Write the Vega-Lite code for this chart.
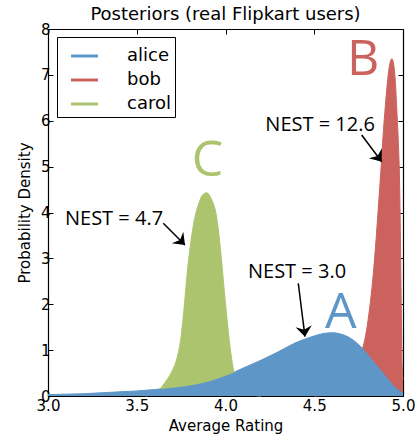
{
  "$schema": "https://vega.github.io/schema/vega-lite/v6.json",
  "width": 355,
  "height": 367,
  "autosize": {"type": "none"},
  "padding": {"left": 48, "top": 29, "right": 14, "bottom": 38},
  "background": "white",
  "title": {"text": "Posteriors (real Flipkart users)", "font": "DejaVu Sans", "fontSize": 18, "fontWeight": "normal", "color": "black", "offset": -16, "baseline": "alphabetic", "anchor": "middle"},
  "config": {
    "view": {"stroke": null},
    "axis": {"grid": false, "domainColor": "black", "domainWidth": 1.2, "tickColor": "black", "tickWidth": 1, "labelColor": "black", "titleColor": "black", "labelFont": "DejaVu Sans", "labelFontSize": 15, "titleFont": "DejaVu Sans", "titleFontSize": 15, "titleFontWeight": "normal", "labelFlush": false, "labelOverlap": false, "zindex": 1}
  },
  "datasets": {
    "curves": [
      {"name": "bob", "x": 4.5, "y": 0},
      {"name": "bob", "x": 4.6, "y": 0.05},
      {"name": "bob", "x": 4.65, "y": 0.15},
      {"name": "bob", "x": 4.7, "y": 0.35},
      {"name": "bob", "x": 4.74, "y": 0.65},
      {"name": "bob", "x": 4.77, "y": 1.0},
      {"name": "bob", "x": 4.79, "y": 1.33},
      {"name": "bob", "x": 4.81, "y": 1.85},
      {"name": "bob", "x": 4.83, "y": 2.55},
      {"name": "bob", "x": 4.85, "y": 3.5},
      {"name": "bob", "x": 4.86, "y": 4.05},
      {"name": "bob", "x": 4.87, "y": 4.6},
      {"name": "bob", "x": 4.88, "y": 5.2},
      {"name": "bob", "x": 4.89, "y": 5.8},
      {"name": "bob", "x": 4.9, "y": 6.3},
      {"name": "bob", "x": 4.91, "y": 6.75},
      {"name": "bob", "x": 4.92, "y": 7.1},
      {"name": "bob", "x": 4.93, "y": 7.3},
      {"name": "bob", "x": 4.937, "y": 7.35},
      {"name": "bob", "x": 4.945, "y": 7.28},
      {"name": "bob", "x": 4.955, "y": 6.95},
      {"name": "bob", "x": 4.965, "y": 6.25},
      {"name": "bob", "x": 4.975, "y": 5.4},
      {"name": "bob", "x": 4.98, "y": 4.8},
      {"name": "bob", "x": 4.985, "y": 3.6},
      {"name": "bob", "x": 4.99, "y": 2.0},
      {"name": "bob", "x": 4.995, "y": 0.7},
      {"name": "bob", "x": 5.0, "y": 0.35},
      {"name": "carol", "x": 3.55, "y": 0.0},
      {"name": "carol", "x": 3.6, "y": 0.06},
      {"name": "carol", "x": 3.63, "y": 0.15},
      {"name": "carol", "x": 3.66, "y": 0.3},
      {"name": "carol", "x": 3.7, "y": 0.55},
      {"name": "carol", "x": 3.725, "y": 0.8},
      {"name": "carol", "x": 3.75, "y": 1.3},
      {"name": "carol", "x": 3.762, "y": 1.73},
      {"name": "carol", "x": 3.79, "y": 2.9},
      {"name": "carol", "x": 3.81, "y": 3.5},
      {"name": "carol", "x": 3.828, "y": 3.9},
      {"name": "carol", "x": 3.85, "y": 4.2},
      {"name": "carol", "x": 3.87, "y": 4.38},
      {"name": "carol", "x": 3.894, "y": 4.43},
      {"name": "carol", "x": 3.92, "y": 4.3},
      {"name": "carol", "x": 3.95, "y": 3.9},
      {"name": "carol", "x": 3.965, "y": 3.45},
      {"name": "carol", "x": 3.979, "y": 2.9},
      {"name": "carol", "x": 3.993, "y": 2.3},
      {"name": "carol", "x": 4.007, "y": 1.73},
      {"name": "carol", "x": 4.02, "y": 1.25},
      {"name": "carol", "x": 4.035, "y": 0.8},
      {"name": "carol", "x": 4.05, "y": 0.48},
      {"name": "carol", "x": 4.07, "y": 0.25},
      {"name": "carol", "x": 4.1, "y": 0.1},
      {"name": "carol", "x": 4.15, "y": 0.02},
      {"name": "carol", "x": 4.2, "y": 0.0},
      {"name": "alice", "x": 3.0, "y": 0.03},
      {"name": "alice", "x": 3.1, "y": 0.04},
      {"name": "alice", "x": 3.2, "y": 0.05},
      {"name": "alice", "x": 3.3, "y": 0.07},
      {"name": "alice", "x": 3.4, "y": 0.09},
      {"name": "alice", "x": 3.5, "y": 0.11},
      {"name": "alice", "x": 3.6, "y": 0.14},
      {"name": "alice", "x": 3.7, "y": 0.18},
      {"name": "alice", "x": 3.8, "y": 0.23},
      {"name": "alice", "x": 3.9, "y": 0.31},
      {"name": "alice", "x": 4.0, "y": 0.44},
      {"name": "alice", "x": 4.05, "y": 0.52},
      {"name": "alice", "x": 4.1, "y": 0.61},
      {"name": "alice", "x": 4.2, "y": 0.78},
      {"name": "alice", "x": 4.3, "y": 0.97},
      {"name": "alice", "x": 4.4, "y": 1.17},
      {"name": "alice", "x": 4.5, "y": 1.31},
      {"name": "alice", "x": 4.55, "y": 1.36},
      {"name": "alice", "x": 4.6, "y": 1.38},
      {"name": "alice", "x": 4.65, "y": 1.35},
      {"name": "alice", "x": 4.7, "y": 1.27},
      {"name": "alice", "x": 4.75, "y": 1.12},
      {"name": "alice", "x": 4.8, "y": 0.92},
      {"name": "alice", "x": 4.85, "y": 0.68},
      {"name": "alice", "x": 4.9, "y": 0.45},
      {"name": "alice", "x": 4.95, "y": 0.22},
      {"name": "alice", "x": 5.0, "y": 0.07}
    ],
    "arrows": [
      {"id": "C", "x": 3.6496, "y": 3.765, "x2": 3.7718, "y2": 3.2916},
      {"id": "A", "x": 4.41, "y": 2.457, "x2": 4.4479, "y2": 1.2926},
      {"id": "B", "x": 4.7673, "y": 5.689, "x2": 4.88, "y2": 5.107}
    ],
    "nest": [
      {"t": "NEST = 4.7", "x": 3.372, "y": 3.727},
      {"t": "NEST = 3.0", "x": 4.403, "y": 2.566},
      {"t": "NEST = 12.6", "x": 4.533, "y": 5.777}
    ],
    "letters": [
      {"t": "A", "x": 4.65, "y": 1.476, "name": "alice"},
      {"t": "B", "x": 4.776, "y": 6.997, "name": "bob"},
      {"t": "C", "x": 3.899, "y": 4.79, "name": "carol"}
    ]
  },
  "layer": [
    {
      "data": {"name": "curves"},
      "mark": {"type": "line", "strokeWidth": 1, "interpolate": "monotone"},
      "encoding": {
        "x": {"field": "x", "type": "quantitative", "scale": {"domain": [3, 5], "nice": false, "zero": false},
              "axis": {"orient": "top", "values": [3, 3.5, 4, 4.5, 5], "labels": false, "title": null, "tickSize": -5, "minExtent": 0, "maxExtent": 0}},
        "y": {"field": "y", "type": "quantitative", "scale": {"domain": [0, 8], "nice": false},
              "axis": {"orient": "right", "values": [0, 1, 2, 3, 4, 5, 6, 7, 8], "labels": false, "title": null, "tickSize": -5, "minExtent": 0, "maxExtent": 0}},
        "color": {"field": "name", "type": "nominal",
                  "scale": {"domain": ["alice", "bob", "carol"], "range": ["#5f96c8", "#cb625e", "#adc46e"]},
                  "legend": {"title": null, "orient": "none", "legendX": 9, "legendY": 8, "symbolType": "stroke", "symbolSize": 729, "symbolStrokeWidth": 3, "symbolOffset": 8.5, "labelOffset": 27.5, "rowPadding": -0.5, "padding": 4, "labelFont": "DejaVu Sans", "labelFontSize": 18, "labelColor": "black", "strokeColor": "black", "fillColor": "white", "cornerRadius": 0}}
      }
    },
    {
      "data": {"name": "curves"},
      "transform": [{"filter": "datum.name === 'bob'"}],
      "mark": {"type": "area", "interpolate": "monotone"},
      "encoding": {
        "x": {"field": "x", "type": "quantitative",
              "axis": {"orient": "bottom", "values": [3, 3.5, 4, 4.5, 5], "format": ".1f", "title": "Average Rating", "tickSize": -5, "labelPadding": 7, "titlePadding": 5}},
        "y": {"field": "y", "type": "quantitative", "stack": null,
              "axis": {"orient": "left", "values": [0, 1, 2, 3, 4, 5, 6, 7, 8], "format": "d", "title": "Probability Density", "tickSize": -5, "labelPadding": 3, "titlePadding": 8}},
        "color": {"field": "name", "type": "nominal", "legend": null}
      }
    },
    {
      "data": {"name": "curves"},
      "transform": [{"filter": "datum.name === 'carol'"}],
      "mark": {"type": "area", "interpolate": "monotone"},
      "encoding": {
        "x": {"field": "x", "type": "quantitative", "axis": null},
        "y": {"field": "y", "type": "quantitative", "stack": null, "axis": null},
        "color": {"field": "name", "type": "nominal", "legend": null}
      }
    },
    {
      "data": {"name": "curves"},
      "transform": [{"filter": "datum.name === 'alice'"}],
      "mark": {"type": "area", "interpolate": "monotone"},
      "encoding": {
        "x": {"field": "x", "type": "quantitative", "axis": null},
        "y": {"field": "y", "type": "quantitative", "stack": null, "axis": null},
        "color": {"field": "name", "type": "nominal", "legend": null}
      }
    },
    {
      "data": {"name": "arrows"},
      "mark": {"type": "rule", "color": "black", "strokeWidth": 1.5},
      "encoding": {
        "x": {"field": "x", "type": "quantitative", "axis": null},
        "y": {"field": "y", "type": "quantitative", "axis": null},
        "x2": {"field": "x2"},
        "y2": {"field": "y2"}
      }
    },
    {
      "data": {"name": "arrows"},
      "transform": [{"filter": "datum.id === 'C'"}],
      "mark": {"type": "point", "shape": "M0,0L0.82,1.06L0,0.7L-0.82,1.06Z", "filled": true, "color": "black", "opacity": 1, "size": 400, "angle": 135},
      "encoding": {
        "x": {"field": "x2", "type": "quantitative", "axis": null},
        "y": {"field": "y2", "type": "quantitative", "axis": null}
      }
    },
    {
      "data": {"name": "arrows"},
      "transform": [{"filter": "datum.id === 'A'"}],
      "mark": {"type": "point", "shape": "M0,0L0.82,1.06L0,0.7L-0.82,1.06Z", "filled": true, "color": "black", "opacity": 1, "size": 400, "angle": 172.85},
      "encoding": {
        "x": {"field": "x2", "type": "quantitative", "axis": null},
        "y": {"field": "y2", "type": "quantitative", "axis": null}
      }
    },
    {
      "data": {"name": "arrows"},
      "transform": [{"filter": "datum.id === 'B'"}],
      "mark": {"type": "point", "shape": "M0,0L0.82,1.06L0,0.7L-0.82,1.06Z", "filled": true, "color": "black", "opacity": 1, "size": 400, "angle": 143.2},
      "encoding": {
        "x": {"field": "x2", "type": "quantitative", "axis": null},
        "y": {"field": "y2", "type": "quantitative", "axis": null}
      }
    },
    {
      "data": {"name": "nest"},
      "mark": {"type": "text", "font": "Open Sans", "fontSize": 20, "color": "black", "align": "center", "baseline": "alphabetic"},
      "encoding": {
        "x": {"field": "x", "type": "quantitative", "axis": null},
        "y": {"field": "y", "type": "quantitative", "axis": null},
        "text": {"field": "t"}
      }
    },
    {
      "data": {"name": "letters"},
      "mark": {"type": "text", "font": "Open Sans", "fontSize": 50, "align": "center", "baseline": "alphabetic"},
      "encoding": {
        "x": {"field": "x", "type": "quantitative", "axis": null},
        "y": {"field": "y", "type": "quantitative", "axis": null},
        "text": {"field": "t"},
        "color": {"field": "name", "type": "nominal", "legend": null}
      }
    }
  ],
  "resolve": {"axis": {"x": "independent", "y": "independent"}}
}
